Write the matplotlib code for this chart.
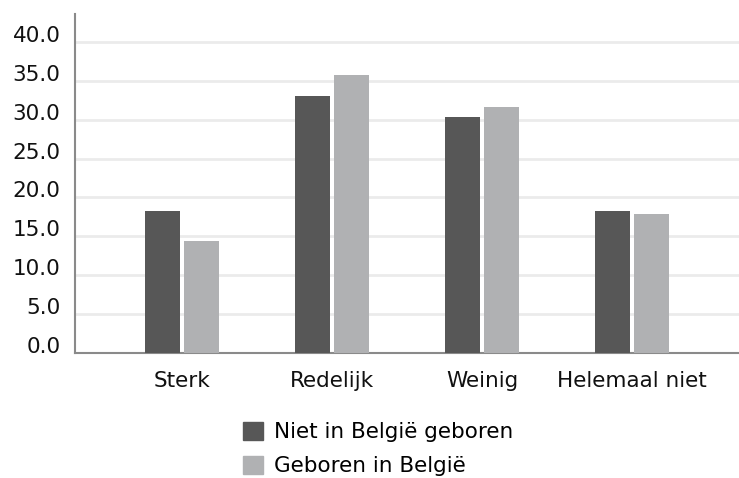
import numpy as np
import matplotlib
matplotlib.use("Agg")
import matplotlib.pyplot as plt
import matplotlib.transforms as mtransforms
from matplotlib.patches import Patch

categories = ["Sterk", "Redelijk", "Weinig", "Helemaal niet"]
niet_belgie = [18.2, 33.0, 30.4, 18.3]
geboren_belgie = [14.4, 35.8, 31.7, 17.9]
series_labels = ["Niet in België geboren", "Geboren in België"]
y_ticks = [0, 5, 10, 15, 20, 25, 30, 35, 40]

dark = "#575757"
light = "#b0b1b3"
fs = 15.5

plt.rcParams["font.family"] = ["DejaVu Sans"]

fig = plt.figure(figsize=(7.39, 4.78), dpi=100)
ax = fig.add_axes([75 / 739, 1 - 353 / 478, 1 - 75 / 739, (353 - 14) / 478])

x = np.arange(len(categories))
w = 0.235
off = 0.13
ax.bar(x - off, niet_belgie, width=w, color=dark, zorder=3)
ax.bar(x + off, geboren_belgie, width=w, color=light, zorder=3)

ax.set_xlim(-0.713, 3.713)
ax.set_ylim(0, 43.6)
ax.set_yticks(y_ticks)
ax.set_yticklabels([f"{v:.1f}" for v in y_ticks])
ax.set_xticks(x)
ax.set_xticklabels(categories)

ax.grid(axis="y", color="#ebebeb", linewidth=2, zorder=0)
ax.tick_params(axis="y", length=0, pad=10.5, labelsize=fs, labelcolor="#111111")
ax.tick_params(axis="x", length=0, pad=13, labelsize=fs, labelcolor="#111111")
# labels sit a little above their grid lines
shift = mtransforms.ScaledTranslation(0, 8 / 100, fig.dpi_scale_trans)
for lbl in ax.get_yticklabels():
    lbl.set_transform(lbl.get_transform() + shift)

for side in ["top", "right"]:
    ax.spines[side].set_visible(False)
for side in ["left", "bottom"]:
    ax.spines[side].set_color("#8a8a8a")
    ax.spines[side].set_linewidth(1.5)

handles = [Patch(color=dark), Patch(color=light)]
fig.legend(handles, series_labels, loc="upper left",
           bbox_to_anchor=(234 / 739, 1 - 413 / 478), frameon=False,
           borderaxespad=0, fontsize=fs, handlelength=0.93, handleheight=0.93,
           handletextpad=0.55, labelspacing=0.62)

fig.savefig("out.png", dpi=100)
